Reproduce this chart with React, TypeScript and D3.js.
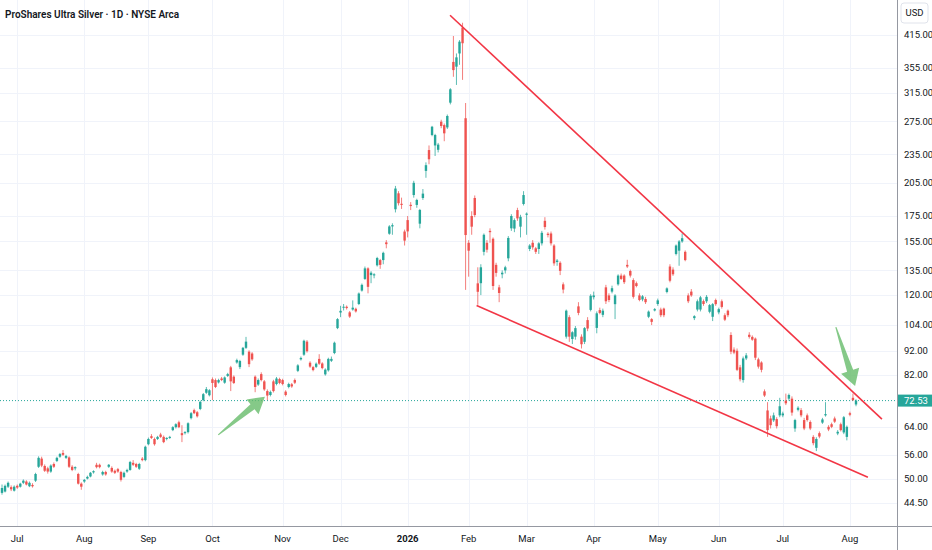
import { useEffect, useRef } from "react";
import * as d3 from "d3";

// [open, high, low, close]
type Bar = [number, number, number, number];

const jun25: Bar[] = [
  [46.7, 48.6, 46.3, 47.8], [47.0, 48.6, 46.8, 48.3], [48.1, 49.3, 47.8, 49.0],
  [48.0, 48.4, 47.1, 47.5], [47.2, 48.4, 47.0, 48.1],
];
const jul25: Bar[] = [
  [48.3, 48.6, 47.6, 47.9], [48.1, 49.0, 47.9, 48.8], [49.0, 49.8, 48.7, 49.5],
  [49.3, 49.6, 48.4, 48.6], [48.2, 49.3, 48.0, 49.0], [48.5, 48.9, 47.9, 48.2],
  [49.5, 51.4, 49.2, 51.1], [52.9, 55.6, 52.6, 55.2], [55.0, 55.5, 52.8, 53.2],
  [53.1, 53.5, 51.6, 51.9], [52.5, 52.9, 51.2, 51.7], [51.7, 53.5, 51.4, 53.2],
  [53.6, 54.0, 52.6, 52.9], [54.4, 55.5, 54.1, 55.2], [55.5, 56.5, 55.2, 56.2],
  [56.5, 57.3, 55.7, 56.0], [55.2, 56.0, 54.9, 55.7], [55.3, 55.6, 52.6, 52.9],
  [52.9, 53.3, 51.8, 52.1], [52.5, 53.0, 52.0, 52.8], [51.1, 51.4, 48.6, 48.8],
  [48.8, 49.1, 47.4, 48.1],
];
const aug25: Bar[] = [
  [49.3, 49.9, 49.0, 49.7], [50.0, 50.7, 49.8, 50.4], [50.5, 51.6, 50.3, 51.4],
  [51.5, 52.0, 51.2, 51.8], [53.4, 53.9, 52.5, 52.8], [53.4, 53.7, 52.5, 52.8],
  [51.0, 51.9, 50.7, 51.6], [51.6, 51.9, 50.7, 51.0], [52.9, 53.6, 52.6, 53.4],
  [52.6, 53.0, 51.4, 51.7], [51.9, 52.2, 51.1, 51.4], [52.3, 52.6, 51.4, 51.7],
  [51.6, 51.9, 49.3, 49.7], [50.4, 51.7, 50.1, 51.4], [51.7, 52.4, 51.4, 52.1],
  [52.1, 54.4, 51.9, 54.1], [53.9, 54.6, 53.1, 53.4], [53.6, 53.9, 52.6, 52.9],
  [52.4, 53.9, 52.1, 53.6], [55.0, 55.4, 54.3, 54.6], [54.6, 58.5, 54.3, 58.2],
];
const sep25: Bar[] = [
  [58.9, 60.8, 58.6, 60.4], [61.2, 61.8, 60.4, 60.7], [60.4, 60.8, 58.5, 58.9],
  [60.4, 61.3, 60.1, 61.0], [61.7, 62.2, 60.7, 61.0], [61.0, 61.4, 59.2, 59.5],
  [60.4, 60.9, 60.0, 60.7], [60.7, 61.3, 60.4, 61.0], [63.0, 64.2, 62.7, 63.9],
  [63.9, 65.1, 63.5, 64.8], [65.4, 65.9, 63.6, 63.9], [62.1, 64.5, 59.5, 61.5],
  [62.1, 62.7, 61.7, 62.4], [62.4, 65.4, 62.0, 65.1], [66.7, 68.7, 66.3, 68.3],
  [69.3, 69.8, 68.0, 68.3], [68.6, 69.0, 66.9, 67.3], [69.7, 72.5, 69.3, 72.1],
  [72.7, 75.2, 72.3, 74.8], [75.3, 77.4, 74.9, 76.6], [74.4, 76.6, 74.0, 76.2],
];
const oct25: Bar[] = [
  [80.3, 81.0, 72.7, 78.9], [80.0, 80.6, 77.0, 77.4], [79.1, 80.5, 78.7, 80.0],
  [80.6, 81.2, 79.6, 80.0], [79.0, 81.4, 78.6, 81.0], [81.6, 82.8, 81.2, 82.3],
  [85.0, 85.6, 75.9, 79.5], [81.3, 81.8, 78.5, 78.9], [87.0, 88.6, 86.5, 88.0],
  [85.1, 88.1, 84.3, 87.6], [90.3, 93.7, 89.8, 93.3], [93.3, 98.3, 92.8, 96.1],
  [91.6, 92.2, 85.1, 86.3], [90.8, 91.4, 87.7, 88.3], [81.3, 81.8, 75.5, 77.4],
  [78.3, 80.6, 77.8, 80.0], [82.3, 83.0, 79.5, 80.0], [79.5, 80.0, 76.0, 76.5],
  [75.9, 76.5, 72.7, 74.3], [74.5, 76.1, 74.0, 75.6], [79.5, 80.1, 75.4, 75.9],
  [78.5, 81.2, 78.0, 80.6], [80.4, 80.9, 78.4, 78.9],
];
const nov25: Bar[] = [
  [80.0, 80.5, 78.0, 78.5], [75.7, 76.2, 74.0, 74.5], [77.4, 79.0, 76.9, 78.5],
  [78.4, 78.9, 77.1, 77.6], [80.0, 80.6, 78.5, 79.0], [83.6, 86.3, 83.1, 85.8],
  [88.3, 89.5, 87.8, 88.9], [90.3, 97.0, 89.8, 96.5], [96.1, 96.8, 91.2, 91.8],
  [86.9, 87.5, 84.8, 85.3], [85.1, 85.6, 83.4, 83.9], [85.2, 87.0, 84.7, 86.5],
  [88.5, 90.5, 86.0, 86.5], [86.6, 87.1, 84.2, 84.7], [82.2, 84.6, 81.7, 84.1],
  [83.8, 89.0, 83.3, 88.5], [87.7, 89.5, 87.2, 88.5], [91.0, 96.1, 90.5, 95.6],
  [102.5, 107.5, 102.0, 107.0],
];
const dec25: Bar[] = [
  [110.4, 114.0, 108.0, 111.3], [113.0, 115.0, 111.5, 113.5], [113.5, 114.2, 112.0, 112.8],
  [110.5, 111.2, 107.6, 108.3], [112.0, 117.0, 111.4, 113.0], [112.4, 113.0, 110.4, 111.0],
  [115.0, 121.5, 114.4, 120.9], [122.6, 126.8, 122.0, 126.0], [129.6, 137.5, 129.0, 136.3],
  [136.3, 137.0, 121.0, 124.8], [132.0, 134.5, 127.0, 133.5], [131.8, 133.2, 130.0, 132.5],
  [138.3, 144.0, 137.5, 143.2], [141.8, 142.6, 136.0, 138.6], [141.8, 147.6, 139.0, 146.8],
  [154.3, 156.0, 150.0, 153.0], [160.8, 167.5, 160.0, 166.5], [166.5, 169.0, 160.0, 167.5],
  [180.7, 202.0, 178.0, 199.5], [195.0, 197.0, 184.0, 186.0], [185.5, 191.0, 181.0, 184.5],
  [162.5, 164.0, 152.0, 155.6],
];
const jan26: Bar[] = [
  [171.6, 175.0, 158.0, 162.6], [184.6, 187.0, 180.0, 183.5], [193.4, 207.0, 191.0, 205.0],
  [184.5, 190.0, 182.0, 188.9], [168.7, 181.0, 165.0, 180.1], [190.7, 199.0, 189.0, 194.7],
  [217.0, 226.0, 210.0, 223.0], [239.7, 245.0, 224.0, 229.4], [257.5, 269.0, 256.0, 267.9],
  [245.0, 259.0, 233.0, 257.5], [240.0, 248.0, 237.0, 246.0], [274.4, 277.0, 266.0, 268.8],
  [270.0, 272.0, 250.0, 259.6], [267.0, 284.0, 265.0, 282.0], [300.5, 322.0, 298.0, 320.3],
  [365.0, 413.0, 340.0, 351.0], [356.8, 380.0, 327.0, 373.0], [380.0, 405.0, 360.0, 402.0],
  [430.0, 440.0, 335.0, 399.0], [279.0, 300.0, 123.0, 159.8],
];
const feb26: Bar[] = [
  [154.0, 156.0, 131.0, 148.3], [175.0, 179.0, 160.0, 166.3], [190.7, 193.0, 174.0, 175.8],
  [126.9, 137.0, 114.6, 121.9], [127.0, 139.0, 120.0, 137.0], [147.5, 161.0, 145.0, 160.0],
  [154.0, 156.0, 147.0, 149.0], [163.0, 165.0, 154.0, 162.0], [157.0, 158.0, 123.0, 125.3],
  [138.6, 140.0, 131.0, 133.4], [124.5, 126.0, 116.0, 121.2], [132.5, 135.0, 130.0, 133.5],
  [135.0, 138.0, 133.0, 137.0], [143.0, 159.0, 141.0, 157.6], [165.0, 176.5, 163.0, 175.0],
  [164.8, 173.0, 162.0, 171.6], [180.0, 182.0, 171.0, 173.0], [166.3, 176.0, 158.0, 174.3],
  [185.3, 197.0, 184.0, 193.4],
];
const mar26: Bar[] = [
  [176.0, 178.0, 160.0, 177.0], [149.5, 153.0, 148.0, 152.0], [154.0, 156.0, 149.0, 150.7],
  [150.0, 151.0, 146.0, 147.5], [149.5, 154.5, 146.0, 153.6], [153.6, 163.0, 152.0, 161.5],
  [171.0, 174.0, 164.0, 166.0], [160.8, 162.0, 158.0, 159.8], [161.0, 162.5, 152.0, 153.6],
  [152.0, 153.0, 138.0, 139.6], [140.5, 142.5, 138.0, 141.5], [140.0, 141.0, 132.0, 134.7],
  [126.3, 127.5, 121.0, 123.2], [98.4, 112.0, 97.5, 111.4], [108.0, 109.0, 96.0, 98.4],
  [97.3, 101.0, 95.0, 100.5], [98.4, 103.5, 97.0, 102.5], [113.7, 116.0, 109.0, 110.2],
  [98.4, 99.5, 93.0, 94.9], [96.0, 103.0, 95.0, 102.5], [106.5, 108.0, 101.0, 102.3],
  [111.8, 120.5, 111.0, 119.6],
];
const apr26: Bar[] = [
  [118.8, 122.0, 117.5, 119.8], [102.6, 111.0, 100.0, 110.0], [111.7, 113.0, 109.5, 110.2],
  [109.2, 112.5, 108.0, 111.4], [124.5, 126.0, 115.0, 116.5], [119.8, 121.0, 116.0, 117.2],
  [122.0, 125.5, 121.0, 124.0], [114.9, 120.5, 107.0, 119.8], [126.3, 132.5, 125.5, 131.7],
  [131.7, 133.0, 129.0, 129.6], [131.7, 132.5, 126.5, 127.6], [138.6, 142.0, 136.5, 137.5],
  [134.6, 135.5, 130.5, 131.7], [128.9, 130.0, 118.0, 119.0], [127.0, 128.0, 124.5, 125.3],
  [119.8, 121.0, 116.5, 117.2], [117.5, 120.0, 116.5, 119.3], [117.8, 119.0, 115.0, 116.0],
  [108.2, 111.5, 107.5, 110.9], [107.0, 107.5, 104.0, 105.6], [111.5, 112.8, 111.0, 112.2],
];
const may26: Bar[] = [
  [115.0, 118.0, 114.0, 117.0], [112.0, 113.0, 108.0, 109.0], [112.5, 113.0, 108.0, 109.0],
  [121.8, 124.5, 121.0, 123.9], [137.5, 139.0, 127.5, 128.5], [135.5, 137.0, 131.5, 132.5],
  [146.0, 152.8, 145.0, 152.0], [148.3, 156.0, 138.0, 155.0], [155.0, 161.0, 154.0, 157.4],
  [147.5, 148.5, 141.0, 141.8], [119.8, 121.0, 115.5, 116.5], [122.0, 123.5, 119.0, 119.8],
  [107.5, 109.0, 106.5, 108.5], [112.0, 117.5, 111.0, 116.5], [112.0, 119.5, 111.0, 118.7],
  [116.6, 117.5, 114.0, 115.0], [116.5, 120.0, 115.5, 119.0], [110.8, 115.0, 110.0, 114.4],
  [108.2, 115.5, 106.0, 114.9], [117.2, 118.0, 114.0, 114.9],
];
const jun26: Bar[] = [
  [110.5, 113.0, 109.5, 112.2], [116.5, 117.5, 112.5, 113.4], [109.0, 110.0, 106.0, 106.7],
  [111.4, 112.0, 108.0, 109.0], [99.2, 100.5, 90.5, 91.6], [92.5, 93.5, 90.5, 91.2],
  [92.0, 93.0, 83.5, 84.0], [85.0, 86.0, 79.5, 80.3], [80.0, 89.5, 79.0, 88.7],
  [88.7, 91.0, 88.0, 90.0], [99.3, 100.5, 97.5, 98.3], [98.3, 99.0, 96.5, 97.0],
  [97.5, 98.0, 88.0, 89.0], [88.3, 89.0, 84.5, 85.3], [87.0, 87.5, 83.0, 84.0],
  [75.8, 76.5, 73.8, 74.3], [69.2, 72.0, 61.0, 63.0], [66.6, 67.5, 63.5, 64.5],
  [66.0, 68.5, 65.5, 67.6], [66.4, 67.0, 63.5, 64.2], [67.6, 73.5, 67.0, 70.6],
];
const jul26: Bar[] = [
  [67.6, 68.8, 67.0, 68.2], [72.5, 75.0, 71.0, 71.6], [73.2, 75.0, 72.5, 74.5],
  [73.2, 74.0, 67.5, 68.5], [63.5, 66.5, 62.5, 66.1], [69.4, 70.6, 68.9, 70.1],
  [69.3, 70.0, 67.0, 67.6], [66.1, 66.8, 63.0, 63.5], [67.6, 68.2, 65.6, 66.1],
  [65.5, 66.0, 63.0, 63.5], [61.0, 61.5, 58.6, 59.2], [57.9, 60.9, 57.0, 60.4],
  [62.1, 62.6, 60.6, 61.1], [65.3, 66.8, 64.9, 66.3], [67.6, 72.0, 67.2, 68.0],
  [64.0, 64.5, 62.7, 63.2], [64.8, 65.3, 63.6, 64.0], [66.6, 67.2, 65.2, 65.6],
  [62.0, 63.0, 61.5, 62.5], [64.8, 65.3, 62.6, 63.0], [62.3, 67.4, 61.8, 67.0],
  [61.0, 64.4, 60.0, 64.0],
];
const aug26: Bar[] = [
  [68.3, 68.8, 67.3, 67.8], [73.5, 75.0, 72.4, 72.7], [71.2, 73.0, 70.6, 72.53],
];

// month label shown at the first bar of each month
const months: { label: string; bars: Bar[] }[] = [
  { label: "", bars: jun25 },
  { label: "Jul", bars: jul25 },
  { label: "Aug", bars: aug25 },
  { label: "Sep", bars: sep25 },
  { label: "Oct", bars: oct25 },
  { label: "Nov", bars: nov25 },
  { label: "Dec", bars: dec25 },
  { label: "2026", bars: jan26 },
  { label: "Feb", bars: feb26 },
  { label: "Mar", bars: mar26 },
  { label: "Apr", bars: apr26 },
  { label: "May", bars: may26 },
  { label: "Jun", bars: jun26 },
  { label: "Jul", bars: jul26 },
  { label: "Aug", bars: aug26 },
];

const priceTicks = [415, 355, 315, 275, 235, 205, 175, 155, 135, 120, 104, 92, 82, 64, 56, 50, 44.5];
const lastPrice = 72.53;

// drawings: [bar index, price]
const upperTrend: [number, number][] = [[146.9, 456], [288.5, 66.4]];
const lowerTrend: [number, number][] = [[155.6, 114.2], [283.9, 50.3]];
const arrows: [number, number][][] = [
  [[70.9, 61.6], [86.2, 73.9]],
  [[273.4, 103.0], [279.7, 77.8]],
];

const W = 932;
const H = 550;
const PLOT_R = 897;
const PLOT_B = 526;
const UP = "#26a69a";
const DOWN = "#ef5350";
const FONT = "'Liberation Sans Narrow', Roboto, 'Liberation Sans', sans-serif";

export default function App() {
  const svgRef = useRef<SVGSVGElement>(null);

  useEffect(() => {
    if (!svgRef.current) return;
    const svg = d3.select(svgRef.current);
    svg.selectAll("*").remove();

    const bars: Bar[] = months.flatMap((m) => m.bars);
    const monthTicks: { label: string; i: number }[] = [];
    let acc = 0;
    months.forEach((m) => {
      if (m.label) monthTicks.push({ label: m.label, i: acc });
      acc += m.bars.length;
    });

    const x = d3.scaleLinear().domain([0, 280]).range([2, 856]);
    const y = d3.scaleLog().domain([44.5, 415]).range([503, 35]);

    svg.append("rect").attr("width", W).attr("height", H).attr("fill", "#ffffff");

    const plot = svg.append("g");
    plot.append("clipPath").attr("id", "plotclip")
      .append("rect").attr("x", 0).attr("y", 0).attr("width", PLOT_R).attr("height", PLOT_B);

    // grid
    const grid = plot.append("g").attr("stroke", "#f0f3fa").attr("stroke-width", 1);
    grid.selectAll("line.v").data(monthTicks).join("line")
      .attr("x1", (d) => Math.round(x(d.i)) + 0.5).attr("x2", (d) => Math.round(x(d.i)) + 0.5)
      .attr("y1", 0).attr("y2", PLOT_B);
    grid.selectAll("line.h").data(priceTicks).join("line")
      .attr("x1", 0).attr("x2", PLOT_R)
      .attr("y1", (d) => Math.round(y(d)) + 0.5).attr("y2", (d) => Math.round(y(d)) + 0.5);

    const inner = plot.append("g").attr("clip-path", "url(#plotclip)");

    // last price dotted line
    inner.append("line")
      .attr("x1", 0).attr("x2", PLOT_R)
      .attr("y1", y(lastPrice)).attr("y2", y(lastPrice))
      .attr("stroke", UP).attr("stroke-width", 1).attr("stroke-dasharray", "1,2");

    // candles
    const candle = inner.selectAll("g.candle").data(bars).join("g")
      .attr("class", "candle")
      .attr("fill", (d) => (d[3] >= d[0] ? UP : DOWN))
      .attr("stroke", (d) => (d[3] >= d[0] ? UP : DOWN));
    candle.append("line")
      .attr("x1", (_, i) => x(i)).attr("x2", (_, i) => x(i))
      .attr("y1", (d) => y(d[1])).attr("y2", (d) => y(d[2]))
      .attr("stroke-width", 1).attr("stroke-opacity", 0.75);
    candle.append("rect")
      .attr("x", (_, i) => x(i) - 1.2)
      .attr("width", 2.4)
      .attr("y", (d) => y(Math.max(d[0], d[3])))
      .attr("height", (d) => Math.max(1, Math.abs(y(d[0]) - y(d[3]))))
      .attr("stroke", "none");

    // trend lines
    const line = d3.line<[number, number]>().x((d) => x(d[0])).y((d) => y(d[1]));
    [upperTrend, lowerTrend].forEach((t) => {
      inner.append("path").attr("d", line(t))
        .attr("fill", "none").attr("stroke", "#f23645").attr("stroke-width", 1.6);
    });

    // arrows
    arrows.forEach(([a, b]) => {
      const tx = x(a[0]), ty = y(a[1]), px = x(b[0]), py = y(b[1]);
      const len = Math.hypot(px - tx, py - ty);
      const ux = (px - tx) / len, uy = (py - ty) / len;
      const nx = -uy, ny = ux;
      const headL = 16, headW = 9.5, shaftW = 3.2, tailW = 0.6;
      const bx = px - ux * headL, by = py - uy * headL;
      const pts: [number, number][] = [
        [tx + nx * tailW, ty + ny * tailW],
        [bx + nx * shaftW, by + ny * shaftW],
        [bx + nx * headW, by + ny * headW],
        [px, py],
        [bx - nx * headW, by - ny * headW],
        [bx - nx * shaftW, by - ny * shaftW],
        [tx - nx * tailW, ty - ny * tailW],
      ];
      inner.append("polygon")
        .attr("points", pts.map((p) => p.join(",")).join(" "))
        .attr("fill", "#66bb6a").attr("fill-opacity", 0.8);
    });

    // axes borders
    svg.append("line").attr("x1", PLOT_R + 0.5).attr("x2", PLOT_R + 0.5)
      .attr("y1", 0).attr("y2", H).attr("stroke", "#9598a1").attr("stroke-width", 1);
    svg.append("line").attr("x1", 0).attr("x2", W)
      .attr("y1", PLOT_B + 0.5).attr("y2", PLOT_B + 0.5).attr("stroke", "#9598a1").attr("stroke-width", 1);

    // price axis labels
    svg.append("g").selectAll("text").data(priceTicks).join("text")
      .attr("x", 904).attr("y", (d) => y(d)).attr("dy", "0.35em")
      .attr("font-family", FONT).attr("font-size", 9.5).attr("fill", "#131722")
      .text((d) => d.toFixed(2));

    // USD box
    svg.append("rect").attr("x", 901).attr("y", 3).attr("width", 27).attr("height", 20)
      .attr("rx", 3).attr("fill", "#ffffff").attr("stroke", "#e0e3eb");
    svg.append("text").attr("x", 914.5).attr("y", 13).attr("dy", "0.35em")
      .attr("text-anchor", "middle").attr("font-family", FONT).attr("font-size", 9.5)
      .attr("fill", "#131722").text("USD");

    // last price label
    svg.append("rect").attr("x", PLOT_R + 1).attr("y", y(lastPrice) - 6)
      .attr("width", W - PLOT_R - 1).attr("height", 12).attr("fill", UP);
    svg.append("text").attr("x", 904).attr("y", y(lastPrice)).attr("dy", "0.35em")
      .attr("font-family", FONT).attr("font-size", 9.5).attr("fill", "#ffffff")
      .text(lastPrice.toFixed(2));

    // time axis labels
    svg.append("g").selectAll("text").data(monthTicks).join("text")
      .attr("x", (d) => x(d.i)).attr("y", 539).attr("dy", "0.35em")
      .attr("text-anchor", "middle").attr("font-family", FONT).attr("font-size", 9.5)
      .attr("font-weight", (d) => (d.label === "2026" ? 700 : 400))
      .attr("fill", "#131722").text((d) => d.label);

    // title
    svg.append("text").attr("x", 5).attr("y", 14).attr("dy", "0.35em")
      .attr("font-family", FONT).attr("font-size", 10).attr("font-weight", 600)
      .attr("fill", "#131722").text("ProShares Ultra Silver · 1D · NYSE Arca");
  }, []);

  return (
    <svg
      ref={svgRef}
      width={W}
      height={H}
      style={{ position: "absolute", left: 0, top: 0, display: "block" }}
    />
  );
}
